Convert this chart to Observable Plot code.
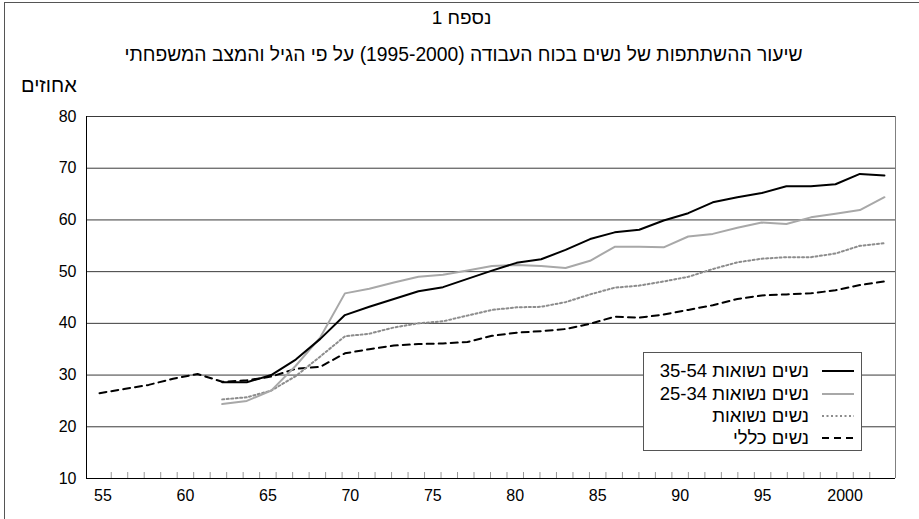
<!DOCTYPE html>
<html>
<head>
<meta charset="utf-8">
<script src="https://cdn.jsdelivr.net/npm/d3@7"></script>
<script src="https://cdn.jsdelivr.net/npm/@observablehq/plot@0.6"></script>
<style>
  html, body { margin: 0; padding: 0; background: #fff; }
  body { font-family: "Liberation Sans", Arial, sans-serif; color: #000; }
  #wrap { position: relative; width: 919px; height: 519px; overflow: hidden; }
  #outer { position: absolute; left: 4px; top: 2px; width: 940px; height: 540px;
           border-top: 1px solid #555; border-left: 1px solid #555; pointer-events: none; }
  #header { position: relative; height: 100px; }
  .title { position: absolute; left: 0; width: 919px; text-align: center; direction: rtl; white-space: nowrap; }
  #t1 { top: 7px; font-size: 19px; left: 2px; }
  #t2 { top: 44px; font-size: 19.3px; left: 4px; }
  #ylab { position: absolute; left: 21px; top: 74px; font-size: 20px; direction: rtl; }
  #chart { position: relative; }
  #legend { position: absolute; left: 643px; top: 352px; width: 217px; height: 97px;
            border: 1px solid #555; background: #fff; }
  .row { position: absolute; left: 0; width: 217px; height: 22px; }
  .row span { position: absolute; right: 52px; top: 0; font-size: 18.5px; line-height: 22px;
              direction: rtl; white-space: nowrap; }
  .row svg { position: absolute; left: 178px; top: 0; }
</style>
</head>
<body>
<div id="wrap">
  <div id="header">
    <div class="title" id="t1">נספח 1</div>
    <div class="title" id="t2">שיעור ההשתתפות של נשים בכוח העבודה (1995-2000) על פי הגיל והמצב המשפחתי</div>
    <div id="ylab">אחוזים</div>
  </div>
  <div id="chart"></div>
  <div id="legend"></div>
  <div id="outer"></div>
</div>
<script>
// ---- data ----
// x positions of the plotted points, in years on the axis
const xYears = [1954.79, 1956.28, 1957.77, 1959.25, 1960.74, 1962.23, 1963.72, 1965.20, 1966.69, 1968.18,
                1969.67, 1971.15, 1972.64, 1974.13, 1975.62, 1977.10, 1978.59, 1980.08, 1981.57, 1983.05,
                1984.54, 1986.03, 1987.52, 1989.00, 1990.49, 1991.98, 1993.47, 1994.95, 1996.44, 1997.93,
                1999.42, 2000.90, 2002.39];
// נשים כללי (all women) – all 33 points
const allWomen = [26.5, 27.3, 28.1, 29.3, 30.2, 28.7, 29.0, 29.7, 31.2, 31.6,
                  34.2, 35.0, 35.7, 36.0, 36.1, 36.4, 37.6, 38.2, 38.5, 38.9,
                  39.9, 41.3, 41.1, 41.7, 42.6, 43.5, 44.7, 45.4, 45.6, 45.8,
                  46.4, 47.4, 48.1];
// married series start at the 6th point
const marriedStart = 5;
// נשים נשואות 35-54
const married3554 = [28.6, 28.6, 30.0, 33.0, 37.0, 41.6, 43.2, 44.7, 46.2, 47.0,
                     48.6, 50.2, 51.7, 52.4, 54.2, 56.3, 57.6, 58.1, 59.9, 61.3,
                     63.4, 64.4, 65.2, 66.5, 66.5, 66.9, 68.9, 68.6];
// נשים נשואות 25-34
const married2534 = [24.4, 25.0, 27.0, 31.8, 37.3, 45.8, 46.7, 47.9, 49.0, 49.4,
                     50.2, 51.1, 51.3, 51.1, 50.7, 52.1, 54.8, 54.8, 54.7, 56.8,
                     57.3, 58.5, 59.5, 59.2, 60.5, 61.2, 61.9, 64.4];
// נשים נשואות
const marriedAll = [25.3, 25.7, 27.0, 29.8, 33.6, 37.5, 38.0, 39.2, 40.0, 40.4,
                    41.5, 42.6, 43.1, 43.2, 44.1, 45.6, 46.9, 47.3, 48.1, 49.0,
                    50.5, 51.8, 52.5, 52.8, 52.8, 53.5, 55.0, 55.5];

const seriesNames = ["נשים נשואות 35-54", "נשים נשואות 25-34", "נשים נשואות", "נשים כללי"];

// axis
const xDomain = [1954.0, 2003.06];
const xLabelYears = [1955, 1960, 1965, 1970, 1975, 1980, 1985, 1990, 1995, 2000];
const xLabels = ["55", "60", "65", "70", "75", "80", "85", "90", "95", "2000"];
const minorTickYears = d3.range(1955.5, 2002, 1);
const yTicks = [10, 20, 30, 40, 50, 60, 70, 80];

// ---- styles ----
const styles = [
  {stroke: "#000", strokeWidth: 2, dash: null},
  {stroke: "#a8a8a8", strokeWidth: 2, dash: null},
  {stroke: "#8c8c8c", strokeWidth: 2, dash: "2,2.5"},
  {stroke: "#000", strokeWidth: 2, dash: "7,5"}
];

const mk = (vals, offset) => vals.map((v, i) => ({x: xYears[i + offset], y: v}));
const seriesData = [
  mk(married3554, marriedStart),
  mk(married2534, marriedStart),
  mk(marriedAll, marriedStart),
  mk(allWomen, 0)
];

const lineMark = (k) => Plot.line(seriesData[k], {
  x: "x", y: "y", stroke: styles[k].stroke, strokeWidth: styles[k].strokeWidth,
  strokeDasharray: styles[k].dash, strokeLinejoin: "round", curve: "linear"
});

const chart = Plot.plot({
  width: 919,
  height: 419,
  marginLeft: 86,
  marginRight: 24,
  marginTop: 16,
  marginBottom: 41,
  x: {type: "linear", domain: xDomain},
  y: {domain: [10, 80]},
  style: {fontFamily: '"Liberation Sans", Arial, sans-serif', fontSize: "16px", color: "#000", background: "transparent"},
  marks: [
    Plot.ruleY(yTicks, {stroke: "#3a3a3a", strokeWidth: 1}),
    Plot.ruleX([xDomain[1]], {stroke: "#808080", strokeWidth: 1}),
    Plot.ruleX(minorTickYears, {x: d => d, y1: 10, y2: 10, insetTop: -6, stroke: "#999", strokeWidth: 1}),
    Plot.ruleX([xDomain[0]], {stroke: "#000", strokeWidth: 1}),
    Plot.ruleY([10], {stroke: "#000", strokeWidth: 1.2}),
    Plot.axisY({ticks: yTicks, tickSize: 0, tickPadding: 10, label: null, fontSize: 16}),
    Plot.axisX({ticks: xLabelYears, tickFormat: (d) => xLabels[xLabelYears.indexOf(d)], tickSize: 0, tickPadding: 11, label: null, fontSize: 16}),
    lineMark(3),
    lineMark(2),
    lineMark(1),
    lineMark(0)
  ]
});
document.getElementById("chart").appendChild(chart);

// ---- legend ----
const legend = document.getElementById("legend");
const rowTops = [7, 30, 52, 74];
seriesNames.forEach((name, k) => {
  const row = document.createElement("div");
  row.className = "row";
  row.style.top = rowTops[k] + "px";
  const span = document.createElement("span");
  span.textContent = name;
  row.appendChild(span);
  const svg = d3.create("svg").attr("width", 34).attr("height", 22);
  svg.append("line").attr("x1", 0).attr("x2", 32).attr("y1", 11).attr("y2", 11)
    .attr("stroke", styles[k].stroke).attr("stroke-width", styles[k].strokeWidth)
    .attr("stroke-dasharray", styles[k].dash);
  row.appendChild(svg.node());
  legend.appendChild(row);
});
</script>
</body>
</html>
